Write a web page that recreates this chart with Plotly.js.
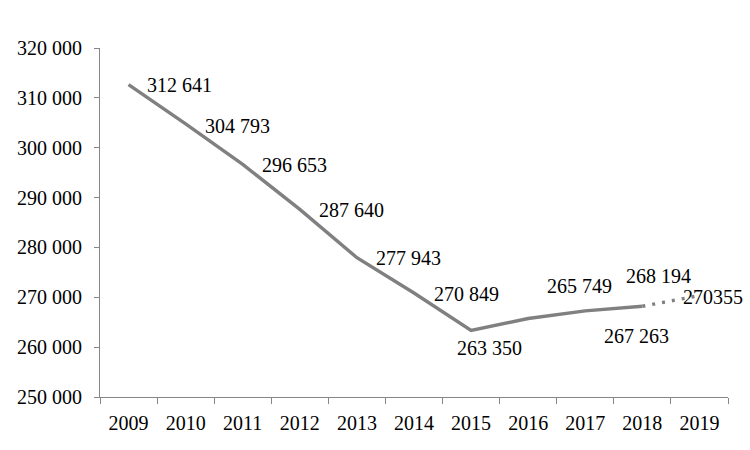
<!DOCTYPE html>
<html>
<head>
<meta charset="utf-8">
<script src="https://cdn.plot.ly/plotly-3.0.1.min.js"></script>
<style>html,body{margin:0;padding:0;background:#fff;}#chart{width:750px;height:450px;}</style>
</head>
<body>
<div id="chart"></div>
<script>
// ---- data ----
var years = ['2009','2010','2011','2012','2013','2014','2015','2016','2017','2018','2019'];
var values = [312641, 304793, 296653, 287640, 277943, 270849, 263350, 265749, 267263, 268194, 270355];
var labelText = ['312 641','304 793','296 653','287 640','277 943','270 849','263 350','265 749','267 263','268 194','270355'];
var yTicks = [250000, 260000, 270000, 280000, 290000, 300000, 310000, 320000];

// ---- label offsets (pixels) ----
var dx = [16, 17, 17, 17, 17, 18, -16, 17, 17, -18, -18];
var dy = [0, -2, -1, -1, 0, -1, -18, 32, -25, 30, -1];

var FONT = '"Liberation Serif", "Times New Roman", serif';
var LINE = '#808080';

var solidX = years.slice(0, 10), solidY = values.slice(0, 10);
var dotX = years.slice(9), dotY = values.slice(9);

var traces = [
  {x: solidX, y: solidY, type: 'scatter', mode: 'lines',
   line: {color: LINE, width: 3.4}, hoverinfo: 'skip', showlegend: false},
  {x: dotX, y: dotY, type: 'scatter', mode: 'lines',
   line: {color: LINE, width: 3.4, dash: '3px,7px'}, hoverinfo: 'skip', showlegend: false}
];

var annotations = years.map(function (yr, i) {
  return {xref: 'x', yref: 'y', x: i, y: values[i], text: labelText[i], showarrow: false,
    xanchor: 'left', yanchor: 'middle', xshift: dx[i], yshift: dy[i],
    font: {family: FONT, size: 20, color: '#000'}};
});

var layout = {
  width: 750, height: 450,
  margin: {l: 100, r: 22, t: 48, b: 53},
  paper_bgcolor: '#fff', plot_bgcolor: '#fff',
  separators: ', ',
  font: {family: FONT, size: 20, color: '#000'},
  showlegend: false,
  xaxis: {type: 'category', categoryorder: 'array', categoryarray: years,
    range: [-0.5, years.length - 0.5],
    showline: true, linecolor: '#868686', linewidth: 1,
    ticks: 'outside', tickson: 'boundaries', ticklen: 6, tickcolor: '#868686',
    ticklabelstandoff: 8,
    showgrid: false, zeroline: false, fixedrange: true,
    tickfont: {family: FONT, size: 20, color: '#000'}},
  yaxis: {range: [250000, 320000], tickvals: yTicks, tickformat: ',d',
    showline: true, linecolor: '#868686', linewidth: 1,
    ticks: 'outside', ticklen: 5, tickcolor: '#868686',
    ticklabelstandoff: 8,
    showgrid: false, zeroline: false, fixedrange: true,
    tickfont: {family: FONT, size: 20, color: '#000'}},
  annotations: annotations
};

Plotly.newPlot('chart', traces, layout, {staticPlot: true, displayModeBar: false});
</script>
</body>
</html>
